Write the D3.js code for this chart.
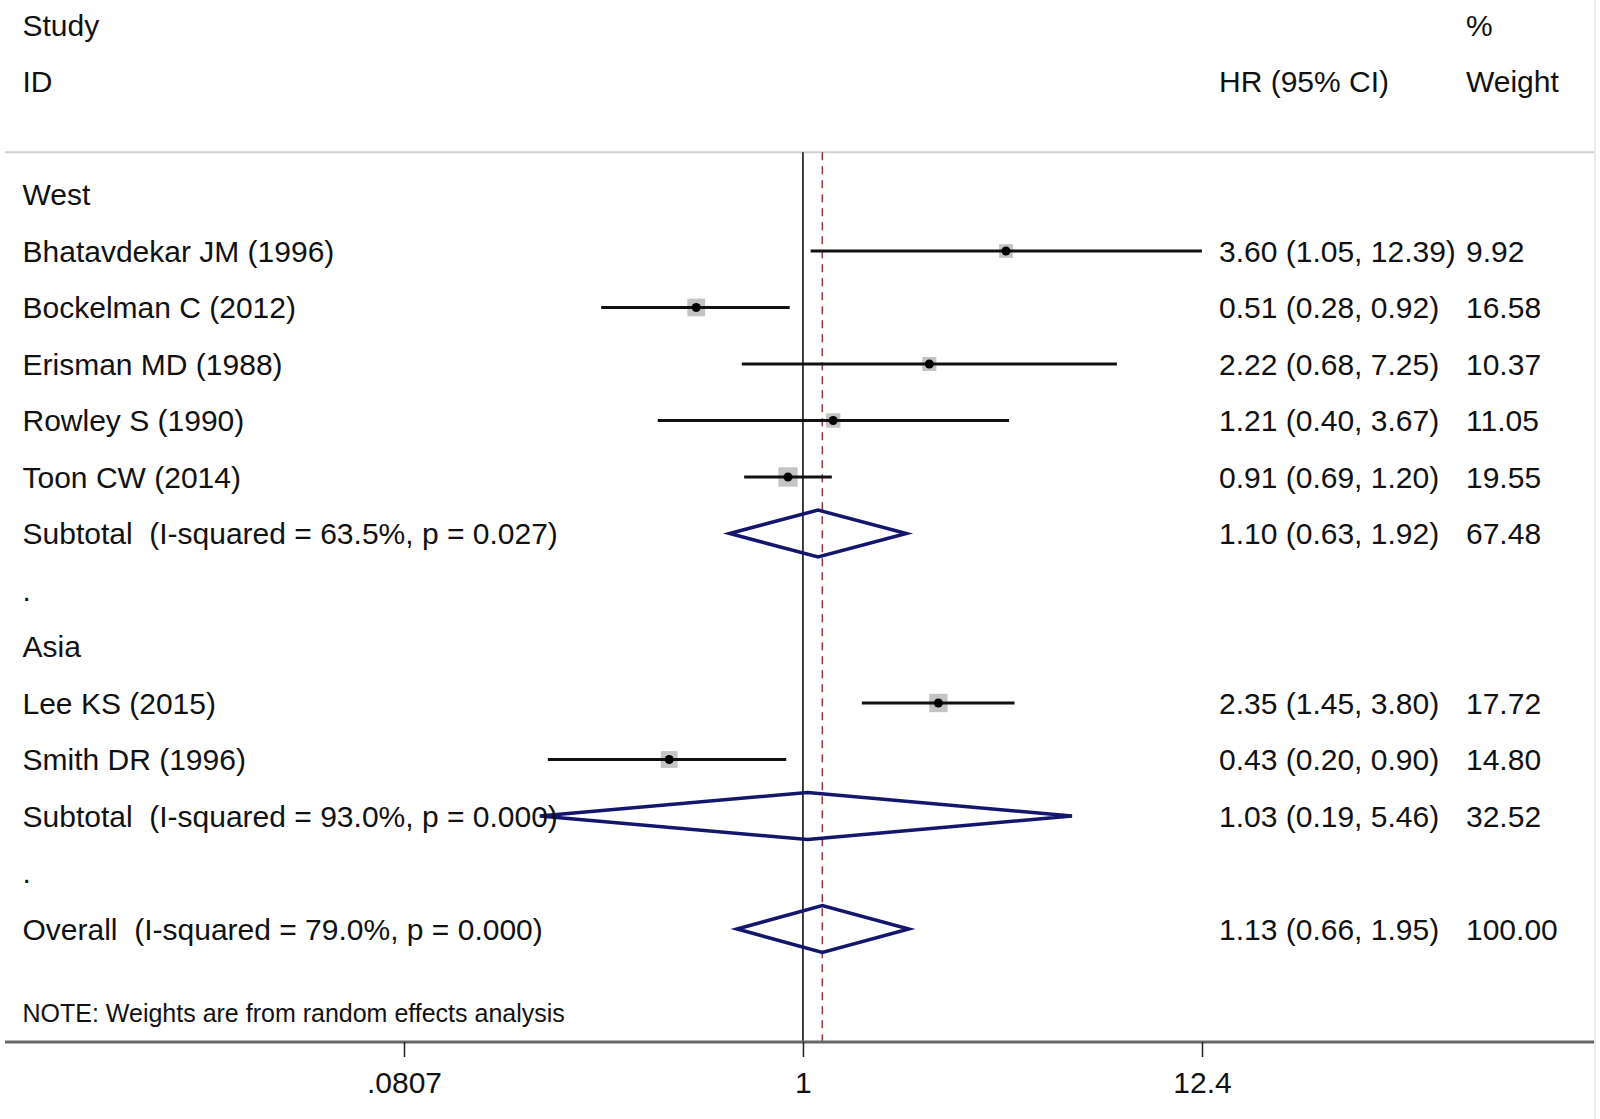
<!DOCTYPE html>
<html>
<head>
<meta charset="utf-8">
<script src="https://cdn.jsdelivr.net/npm/d3@7"></script>
<style>
  body { margin: 0; background: #fff; }
  svg text { font-family: "Liberation Sans", Arial, sans-serif; fill: #111; white-space: pre; }
</style>
</head>
<body>
<svg id="chart"></svg>
<script>
// rows of the forest plot, top to bottom
var labels = ["West", "Bhatavdekar JM (1996)", "Bockelman C (2012)", "Erisman MD (1988)",
    "Rowley S (1990)", "Toon CW (2014)", "Subtotal  (I-squared = 63.5%, p = 0.027)", ".",
    "Asia", "Lee KS (2015)", "Smith DR (1996)", "Subtotal  (I-squared = 93.0%, p = 0.000)", ".",
    "Overall  (I-squared = 79.0%, p = 0.000)"]
var kinds = ["group", "study", "study", "study", "study", "study", "pooled", "blank",
    "group", "study", "study", "pooled", "blank", "pooled"]
var hr     = [null, 3.60, 0.51, 2.22, 1.21, 0.91, 1.10, null, null, 2.35, 0.43, 1.03, null, 1.13]
var lower  = [null, 1.05, 0.28, 0.68, 0.40, 0.69, 0.63, null, null, 1.45, 0.20, 0.19, null, 0.66]
var upper  = [null, 12.39, 0.92, 7.25, 3.67, 1.20, 1.92, null, null, 3.80, 0.90, 5.46, null, 1.95]
var weight = [null, 9.92, 16.58, 10.37, 11.05, 19.55, 67.48, null, null, 17.72, 14.80, 32.52, null, 100.00]
var hrText = [null, "3.60 (1.05, 12.39)", "0.51 (0.28, 0.92)", "2.22 (0.68, 7.25)", "1.21 (0.40, 3.67)",
    "0.91 (0.69, 1.20)", "1.10 (0.63, 1.92)", null, null, "2.35 (1.45, 3.80)", "0.43 (0.20, 0.90)",
    "1.03 (0.19, 5.46)", null, "1.13 (0.66, 1.95)"]
var weightText = [null, "9.92", "16.58", "10.37", "11.05", "19.55", "67.48", null, null,
    "17.72", "14.80", "32.52", null, "100.00"]
var overallHR = 1.13
var tickValues = [0.0807, 1, 12.4]
var tickLabels = [".0807", "1", "12.4"]
var note = "NOTE: Weights are from random effects analysis"

var dimensions = {
    width: 1600,
    height: 1119,
    fontSize: 30
}

var svg = d3.select("#chart")
            .attr("width", dimensions.width)
            .attr("height", dimensions.height)

var rows = labels.map(function(l, i){
    return {label: l, kind: kinds[i], hr: hr[i], lo: lower[i], hi: upper[i],
            w: weight[i], hrText: hrText[i], wText: weightText[i], i: i}
})

// log scale for HR, linear row scale for y (header rows at -3, -2)
var xScale = d3.scaleLog()
                .domain([tickValues[0], tickValues[2]])
                .range([404, 1202])

var yScale = d3.scaleLinear()
                .domain([-3, 15])
                .range([25, 1042])

var boxSize = d3.scaleSqrt()
                .domain([0, 20])
                .range([0, 19.5])

var yTop = yScale(-0.75)
var yAxisLine = yScale(15)
var colHR = 1219, colW = 1466, colLeft = 22.5

// faint frame at the right edge
svg.append("line")
    .attr("x1", 1595).attr("x2", 1595)
    .attr("y1", 0).attr("y2", dimensions.height)
    .attr("stroke", "#ececec").attr("stroke-width", 2)

// header rule
svg.append("line")
    .attr("x1", 5).attr("x2", 1594)
    .attr("y1", yTop).attr("y2", yTop)
    .attr("stroke", "#cfcfcf").attr("stroke-width", 2)

// header text
var header = [
    {t: "Study", x: colLeft, r: -3},
    {t: "ID", x: colLeft, r: -2},
    {t: "HR (95% CI)", x: colHR, r: -2},
    {t: "%", x: colW, r: -3},
    {t: "Weight", x: colW, r: -2}
]
svg.selectAll(".head")
    .data(header)
    .enter()
    .append("text")
    .attr("x", d => d.x)
    .attr("y", d => yScale(d.r))
    .attr("dy", "0.36em")
    .style("font-size", dimensions.fontSize + "px")
    .text(d => d.t)

// no-effect line and overall dashed line
svg.append("line")
    .attr("x1", xScale(1)).attr("x2", xScale(1))
    .attr("y1", yTop).attr("y2", yAxisLine)
    .attr("stroke", "#000").attr("stroke-width", 1.5)

svg.append("line")
    .attr("x1", xScale(overallHR)).attr("x2", xScale(overallHR))
    .attr("y1", yTop).attr("y2", yAxisLine)
    .attr("stroke", "#a0303a").attr("stroke-width", 1.5)
    .attr("stroke-dasharray", "8,6")

var studies = rows.filter(d => d.kind == "study")

// weight boxes
svg.selectAll(".box")
    .data(studies)
    .enter()
    .append("rect")
    .attr("x", d => xScale(d.hr) - boxSize(d.w) / 2)
    .attr("y", d => yScale(d.i) - boxSize(d.w) / 2)
    .attr("width", d => boxSize(d.w))
    .attr("height", d => boxSize(d.w))
    .attr("fill", "#c4c4c4")

// confidence intervals
svg.selectAll(".ci")
    .data(studies)
    .enter()
    .append("line")
    .attr("x1", d => xScale(d.lo))
    .attr("x2", d => xScale(d.hi))
    .attr("y1", d => yScale(d.i))
    .attr("y2", d => yScale(d.i))
    .attr("stroke", "#111")
    .attr("stroke-width", 3)

// point estimates
svg.selectAll(".pt")
    .data(studies)
    .enter()
    .append("circle")
    .attr("cx", d => xScale(d.hr))
    .attr("cy", d => yScale(d.i))
    .attr("r", 4.5)
    .attr("fill", "#000")

// pooled diamonds
svg.selectAll(".diamond")
    .data(rows.filter(d => d.kind == "pooled"))
    .enter()
    .append("path")
    .attr("d", function(d){
        var y = yScale(d.i), h = 23.5
        return "M" + xScale(d.lo) + "," + y +
               "L" + xScale(d.hr) + "," + (y - h) +
               "L" + xScale(d.hi) + "," + y +
               "L" + xScale(d.hr) + "," + (y + h) + "Z"
    })
    .attr("fill", "none")
    .attr("stroke", "#14166e")
    .attr("stroke-width", 3.5)

// study labels
svg.selectAll(".label")
    .data(rows)
    .enter()
    .append("text")
    .attr("x", colLeft)
    .attr("y", d => yScale(d.i))
    .attr("dy", "0.36em")
    .style("font-size", dimensions.fontSize + "px")
    .text(d => d.label)

svg.selectAll(".hrtext")
    .data(rows.filter(d => d.hrText))
    .enter()
    .append("text")
    .attr("x", colHR)
    .attr("y", d => yScale(d.i))
    .attr("dy", "0.36em")
    .style("font-size", dimensions.fontSize + "px")
    .text(d => d.hrText)

svg.selectAll(".wtext")
    .data(rows.filter(d => d.wText))
    .enter()
    .append("text")
    .attr("x", colW)
    .attr("y", d => yScale(d.i))
    .attr("dy", "0.36em")
    .style("font-size", dimensions.fontSize + "px")
    .text(d => d.wText)

svg.append("text")
    .attr("x", colLeft)
    .attr("y", yScale(14.48))
    .attr("dy", "0.36em")
    .style("font-size", "25px")
    .text(note)

// x axis
svg.append("line")
    .attr("x1", 5).attr("x2", 1594)
    .attr("y1", yAxisLine).attr("y2", yAxisLine)
    .attr("stroke", "#666").attr("stroke-width", 3)

var xAxisgen = d3.axisBottom(xScale)
                .tickValues(tickValues)
                .tickFormat((d, i) => tickLabels[i])
                .tickSize(15)
                .tickPadding(15)

var xAxis = svg.append("g")
                .attr("transform", `translate(0,${yAxisLine})`)
                .call(xAxisgen)

xAxis.select(".domain").remove()
xAxis.selectAll("line").attr("stroke", "#222").attr("stroke-width", 1.5)
xAxis.selectAll("text")
    .style("font-size", dimensions.fontSize + "px")
    .style("font-family", "Liberation Sans, Arial, sans-serif")
    .attr("fill", "#111")
</script>
</body>
</html>
